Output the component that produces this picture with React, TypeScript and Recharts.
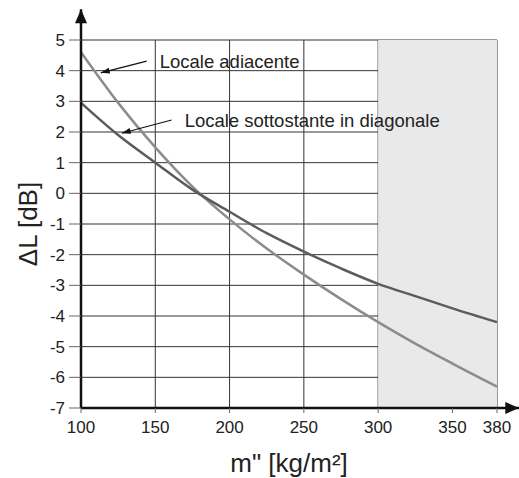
import {
  LineChart,
  Line,
  XAxis,
  YAxis,
  CartesianGrid,
  ReferenceArea,
  ReferenceLine,
} from 'recharts'

const massValues = [100, 125, 150, 175, 200, 225, 250, 275, 300, 325, 350, 380]
const adiacente = [4.6, 2.95, 1.5, 0.22, -0.85, -1.8, -2.65, -3.45, -4.2, -4.9, -5.55, -6.3]
const diagonale = [2.95, 1.9, 1.0, 0.12, -0.6, -1.3, -1.9, -2.45, -2.95, -3.35, -3.75, -4.2]

const xTicks = [100, 150, 200, 250, 300, 350, 380]
const yTicks = [-7, -6, -5, -4, -3, -2, -1, 0, 1, 2, 3, 4, 5]

const annotations = [
  { text: 'Locale adiacente', from: { x: 144.2, y: 4.31 }, to: { x: 113.3, y: 3.93 } },
  { text: 'Locale sottostante in diagonale', from: { x: 161, y: 2.39 }, to: { x: 127.4, y: 1.96 } },
]

const data = massValues.map((m, i) => ({ m, adiacente: adiacente[i], diagonale: diagonale[i] }))

const font = 'Liberation Sans, Arial, Helvetica, sans-serif'

function arrowHead(x1: number, y1: number, x2: number, y2: number, len: number, half: number) {
  const a = Math.atan2(y2 - y1, x2 - x1)
  const bx = x2 - len * Math.cos(a)
  const by = y2 - len * Math.sin(a)
  const px = -Math.sin(a) * half
  const py = Math.cos(a) * half
  return `${x2},${y2} ${bx + px},${by + py} ${bx - px},${by - py}`
}

const AxisArrow = (props: any) => {
  const { x1, y1, x2, y2 } = props
  return (
    <g>
      <line x1={x1} y1={y1} x2={x2} y2={y2} stroke="#111" strokeWidth={2.5} />
      <polygon points={arrowHead(x1, y1, x2, y2, 14, 6)} fill="#111" />
    </g>
  )
}

const makeNote = (text: string) => (props: any) => {
  const { x1, y1, x2, y2 } = props
  return (
    <g>
      <line x1={x1} y1={y1} x2={x2} y2={y2} stroke="#111" strokeWidth={1.2} />
      <polygon points={arrowHead(x1, y1, x2, y2, 9, 3)} fill="#111" />
      <text x={x1 + 13} y={y1} dominantBaseline="central" fontSize={18.5} fill="#222" fontFamily={font}>
        {text}
      </text>
    </g>
  )
}

export default function App() {
  return (
    <div style={{ position: 'absolute', left: 0, top: 0, background: '#fff' }}>
      <LineChart
        width={519}
        height={478}
        data={data}
        margin={{ top: 40, right: 22, left: 0, bottom: 0 }}
      >
        <ReferenceArea x1={300} x2={380} y1={-7} y2={5} fill="#e9e9e9" fillOpacity={1} stroke="none" />
        <CartesianGrid stroke="#333" strokeWidth={1} verticalValues={xTicks} horizontalValues={yTicks} />
        <XAxis
          type="number"
          dataKey="m"
          domain={[100, 380]}
          ticks={xTicks}
          height={70}
          axisLine={false}
          tickSize={5}
          tickMargin={8}
          tickLine={{ stroke: '#666' }}
          tick={{ fontSize: 17, fill: '#222', fontFamily: font }}
          label={{ value: 'm" [kg/m²]', position: 'insideBottom', offset: 6, fontSize: 26, fill: '#222', fontFamily: font }}
        />
        <YAxis
          type="number"
          domain={[-7, 5]}
          ticks={yTicks}
          width={81}
          axisLine={false}
          tickSize={12}
          tickMargin={4}
          tickLine={{ stroke: '#666' }}
          tick={{ fontSize: 17, fill: '#222', fontFamily: font }}
          label={{
            value: 'ΔL [dB]',
            angle: -90,
            position: 'insideLeft',
            offset: 28,
            fontSize: 26,
            fill: '#222',
            fontFamily: font,
            style: { textAnchor: 'middle' },
          }}
        />
        <Line
          type="monotone"
          dataKey="adiacente"
          stroke="#8c8c8c"
          strokeWidth={2.5}
          dot={false}
          isAnimationActive={false}
        />
        <Line
          type="monotone"
          dataKey="diagonale"
          stroke="#5c5c5c"
          strokeWidth={2.5}
          dot={false}
          isAnimationActive={false}
        />
        <ReferenceLine
          segment={[{ x: 100, y: -7 }, { x: 100, y: 6 }]}
          ifOverflow="visible"
          shape={AxisArrow}
        />
        <ReferenceLine
          segment={[{ x: 100, y: -7 }, { x: 395, y: -7 }]}
          ifOverflow="visible"
          shape={AxisArrow}
        />
        {annotations.map((a) => (
          <ReferenceLine
            key={a.text}
            segment={[a.from, a.to]}
            ifOverflow="visible"
            shape={makeNote(a.text)}
          />
        ))}
      </LineChart>
    </div>
  )
}
